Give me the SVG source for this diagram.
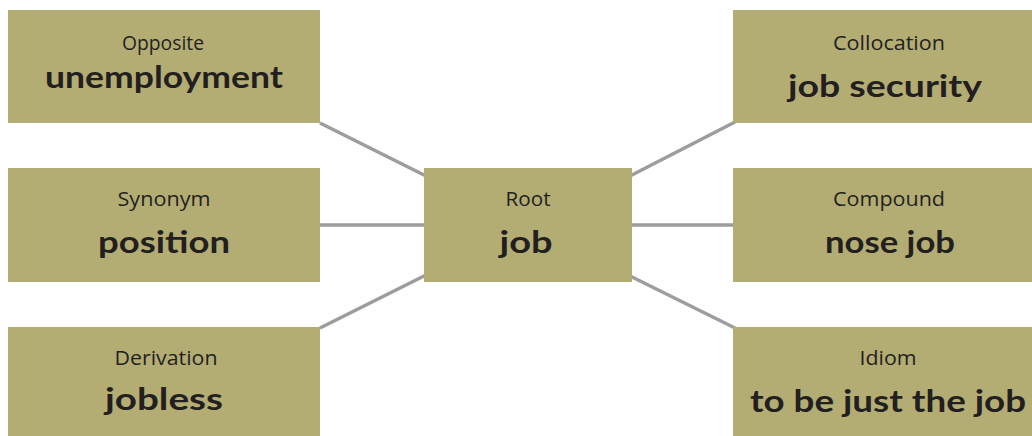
<svg xmlns="http://www.w3.org/2000/svg" width="1032" height="436" viewBox="0 0 1032 436">
<style>
.box{fill:#b3ad74}
.lbl{font-family:"Open Sans","Noto Sans",sans-serif;font-size:20.5px;fill:#231f20;text-anchor:middle}
.main{font-family:"Lato","Noto Sans",sans-serif;font-weight:700;font-size:30px;fill:#231f20;text-anchor:middle}
.con{stroke:#9d9d9f;stroke-width:3.5;fill:none}
</style>
<rect width="1032" height="436" fill="#ffffff"/>
<g id="connectors">
<line class="con" x1="320" y1="123" x2="426" y2="176"/>
<line class="con" x1="320" y1="225" x2="426" y2="225"/>
<line class="con" x1="320" y1="328" x2="426" y2="275"/>
<line class="con" x1="630" y1="176" x2="735" y2="122"/>
<line class="con" x1="630" y1="225" x2="735" y2="225"/>
<line class="con" x1="630" y1="276" x2="735" y2="328"/>
</g>
<g id="opposite">
<rect class="box" x="8" y="10" width="312" height="113"/>
<text class="lbl" x="163" y="50" textLength="82" lengthAdjust="spacingAndGlyphs">Opposite</text>
<text class="main" x="164" y="88" textLength="238" lengthAdjust="spacingAndGlyphs">unemployment</text>
</g>
<g id="synonym">
<rect class="box" x="8" y="168" width="312" height="114"/>
<text class="lbl" x="164" y="206" textLength="93" lengthAdjust="spacingAndGlyphs">Synonym</text>
<text class="main" x="164" y="253" textLength="132" lengthAdjust="spacingAndGlyphs">position</text>
</g>
<g id="derivation">
<rect class="box" x="8" y="327" width="312" height="113"/>
<text class="lbl" x="166" y="365" textLength="103" lengthAdjust="spacingAndGlyphs">Derivation</text>
<text class="main" x="164" y="410" textLength="118" lengthAdjust="spacingAndGlyphs">jobless</text>
</g>
<g id="root">
<rect class="box" x="424" y="168" width="208" height="114"/>
<text class="lbl" x="528" y="206" textLength="45" lengthAdjust="spacingAndGlyphs">Root</text>
<text class="main" x="526" y="253" textLength="53" lengthAdjust="spacingAndGlyphs">job</text>
</g>
<g id="collocation">
<rect class="box" x="733" y="10" width="312" height="113"/>
<text class="lbl" x="889" y="50" textLength="112" lengthAdjust="spacingAndGlyphs">Collocation</text>
<text class="main" x="885" y="97" textLength="194" lengthAdjust="spacingAndGlyphs">job security</text>
</g>
<g id="compound">
<rect class="box" x="733" y="168" width="312" height="114"/>
<text class="lbl" x="889" y="206" textLength="112" lengthAdjust="spacingAndGlyphs">Compound</text>
<text class="main" x="890" y="253" textLength="130" lengthAdjust="spacingAndGlyphs">nose job</text>
</g>
<g id="idiom">
<rect class="box" x="733" y="327" width="312" height="113"/>
<text class="lbl" x="888" y="365" textLength="57" lengthAdjust="spacingAndGlyphs">Idiom</text>
<text class="main" x="888" y="412" textLength="276" lengthAdjust="spacingAndGlyphs">to be just the job</text>
</g>
</svg>
